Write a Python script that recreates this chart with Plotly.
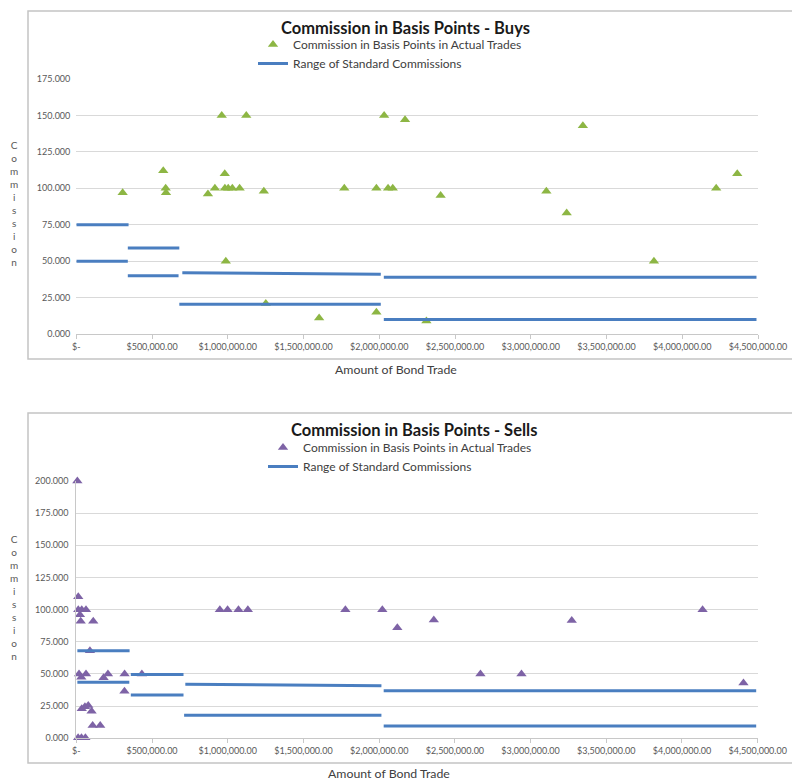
import plotly.graph_objects as go

W, H = 792, 782

# ---------------- Data: Buys ----------------
buy_amount = [306000, 574000, 590000, 592000, 869000, 915000, 960000, 980000, 981000, 987000,
              1003000, 1030000, 1078000, 1122000, 1238000, 1251000, 1603000, 1769000, 1981000,
              1981000, 2032000, 2058000, 2089000, 2170000, 2311000, 2405000, 3103000, 3237000,
              3344000, 3813000, 4224000, 4363000]
buy_commission = [97, 112, 100, 97, 96, 100, 150, 110, 100, 50,
                  100, 100, 100, 150, 98, 21, 11, 100, 100,
                  15, 150, 100, 100, 147, 9, 95, 98, 83,
                  143, 50, 100, 110]

buy_range_start = [0, 0, 340000, 340000, 700000, 680000, 2030000, 2030000]
buy_range_end = [345000, 340000, 680000, 675000, 2010000, 2010000, 4490000, 4490000]
buy_range_from = [75, 50, 59, 40, 42, 20.5, 39, 10]
buy_range_to = [75, 50, 59, 40, 41, 20.5, 39, 10]

# ---------------- Data: Sells ----------------
sell_amount = [7000, 13000, 13000, 24000, 29000, 36000, 64000, 112000, 90000,
               18000, 33000, 64000, 180000, 209000, 319000, 318000, 433000,
               36000, 57000, 79000, 101000, 108000, 158000, 12000, 34000, 60000,
               948000, 999000, 1071000, 1133000, 1777000, 2021000, 2120000, 2361000,
               2669000, 2940000, 3272000, 4136000, 4406000]
sell_commission = [200, 110, 100, 96, 91, 100, 100, 91, 68,
                   50, 47.5, 50, 47, 50, 50, 36.5, 50,
                   23, 24.5, 25.5, 21, 10, 10, 0.5, 0.5, 0.5,
                   100, 100, 100, 100, 100, 100, 86, 92,
                   50, 50, 91.5, 100, 43]

sell_range_start = [7000, 7000, 360000, 360000, 720000, 712000, 2030000, 2030000]
sell_range_end = [352000, 350000, 708000, 708000, 2015000, 2015000, 4490000, 4490000]
sell_range_from = [68, 43.5, 49.5, 33.7, 42, 18, 37, 9.6]
sell_range_to = [68, 43.5, 49.5, 33.7, 40.8, 18, 37, 9.6]

x_tick_vals = [0, 500000, 1000000, 1500000, 2000000, 2500000, 3000000, 3500000, 4000000, 4500000]
x_tick_text = ["$-", "$500,000.00", "$1,000,000.00", "$1,500,000.00", "$2,000,000.00",
               "$2,500,000.00", "$3,000,000.00", "$3,500,000.00", "$4,000,000.00", "$4,500,000.00"]

GREEN = "#8DB644"
PURPLE = "#7E63A6"
BLUE = "#4A7EC0"
GRID = "#d9d9d9"
TXT = "#404040"
FONT = "Lato"


def px(x):
    return x / W


def py(y):
    return 1 - y / H


def segments(starts, ends, y0s, y1s):
    xs, ys = [], []
    for a, b, c, d in zip(starts, ends, y0s, y1s):
        xs += [a, b, None]
        ys += [c, d, None]
    return xs, ys


fig = go.Figure()

fig.add_trace(go.Scatter(
    x=buy_amount, y=buy_commission, mode="markers", name="Commission in Basis Points in Actual Trades",
    marker=dict(symbol="triangle-up", size=9, color=GREEN), cliponaxis=False,
    xaxis="x", yaxis="y", legend="legend"))
bx, by = segments(buy_range_start, buy_range_end, buy_range_from, buy_range_to)
fig.add_trace(go.Scatter(
    x=bx, y=by, mode="lines", name="Range of Standard Commissions",
    line=dict(color=BLUE, width=3), xaxis="x", yaxis="y", legend="legend"))

fig.add_trace(go.Scatter(
    x=sell_amount, y=sell_commission, mode="markers", name="Commission in Basis Points in Actual Trades",
    marker=dict(symbol="triangle-up", size=9, color=PURPLE), cliponaxis=False,
    xaxis="x2", yaxis="y2", legend="legend2"))
sx, sy = segments(sell_range_start, sell_range_end, sell_range_from, sell_range_to)
fig.add_trace(go.Scatter(
    x=sx, y=sy, mode="lines", name="Range of Standard Commissions",
    line=dict(color=BLUE, width=3), xaxis="x2", yaxis="y2", legend="legend2"))

xaxis_common = dict(
    range=[0, 4500000], tickvals=x_tick_vals, ticktext=x_tick_text, automargin=False,
    showgrid=False, zeroline=False, showline=True, linecolor="#c8c8c8", linewidth=1,
    ticks="outside", ticklen=4, tickcolor="#c8c8c8",
    tickfont=dict(family=FONT, size=9, color="#595959"), fixedrange=True)
yaxis_common = dict(
    tickformat=".3f", showgrid=True, gridcolor=GRID, gridwidth=1, zeroline=False, automargin=False,
    ticks="", ticklabelstandoff=5, tickfont=dict(family=FONT, size=9, color="#595959"), fixedrange=True)

fig.update_layout(
    template="none",
    width=W, height=H, margin=dict(l=0, r=0, t=0, b=0, autoexpand=False),
    paper_bgcolor="white", plot_bgcolor="white",
    xaxis=dict(domain=[px(76.3), px(758)], anchor="y", **xaxis_common),
    yaxis=dict(domain=[py(334), py(79)], anchor="x", range=[0, 175], dtick=25,
               showline=False, **yaxis_common),
    xaxis2=dict(domain=[px(76.3), px(757.7)], anchor="y2", **xaxis_common),
    yaxis2=dict(domain=[py(738.3), py(481)], anchor="x2", range=[0, 200], dtick=25,
                showline=True, linecolor="#c8c8c8", linewidth=1, **yaxis_common),
    legend=dict(x=px(253), y=py(30), xanchor="left", yanchor="top", bgcolor="rgba(0,0,0,0)",
                font=dict(family=FONT, size=12, color=TXT), tracegroupgap=0, itemwidth=30,
                borderwidth=0),
    legend2=dict(x=px(263), y=py(433), xanchor="left", yanchor="top", bgcolor="rgba(0,0,0,0)",
                 font=dict(family=FONT, size=12, color=TXT), tracegroupgap=0, itemwidth=30,
                 borderwidth=0),
    showlegend=True,
)

# frames
fig.add_shape(type="rect", xref="paper", yref="paper", x0=px(28), x1=1.02, y0=py(359), y1=py(11),
              line=dict(color="#c4c4c4", width=1.5), fillcolor="rgba(0,0,0,0)", layer="below")
fig.add_shape(type="rect", xref="paper", yref="paper", x0=px(28), x1=1.02, y0=py(763), y1=py(413),
              line=dict(color="#c4c4c4", width=1.5), fillcolor="rgba(0,0,0,0)", layer="below")

annos = [
    dict(text="<b>Commission in Basis Points - Buys</b>", x=px(405), y=py(28), size=16.5, color="#1a1a1a"),
    dict(text="<b>Commission in Basis Points - Sells</b>", x=px(414), y=py(430), size=16.5, color="#1a1a1a"),
    dict(text="Amount of Bond Trade", x=px(396), y=py(369), size=12.3, color=TXT),
    dict(text="Amount of Bond Trade", x=px(389), y=py(773), size=12.3, color=TXT),
    dict(text="C<br>o<br>m<br>m<br>i<br>s<br>s<br>i<br>o<br>n", x=px(14), y=py(203), size=10, color="#595959"),
    dict(text="C<br>o<br>m<br>m<br>i<br>s<br>s<br>i<br>o<br>n", x=px(14), y=py(597), size=10, color="#595959"),
]
for a in annos:
    fig.add_annotation(text=a["text"], x=a["x"], y=a["y"], xref="paper", yref="paper",
                       xanchor="center", yanchor="middle", showarrow=False,
                       font=dict(family=FONT, size=a["size"], color=a["color"]))

fig.write_html("out.html", config={"displayModeBar": False},
               post_script="document.body.style.margin='0';document.body.style.overflow='hidden';")
